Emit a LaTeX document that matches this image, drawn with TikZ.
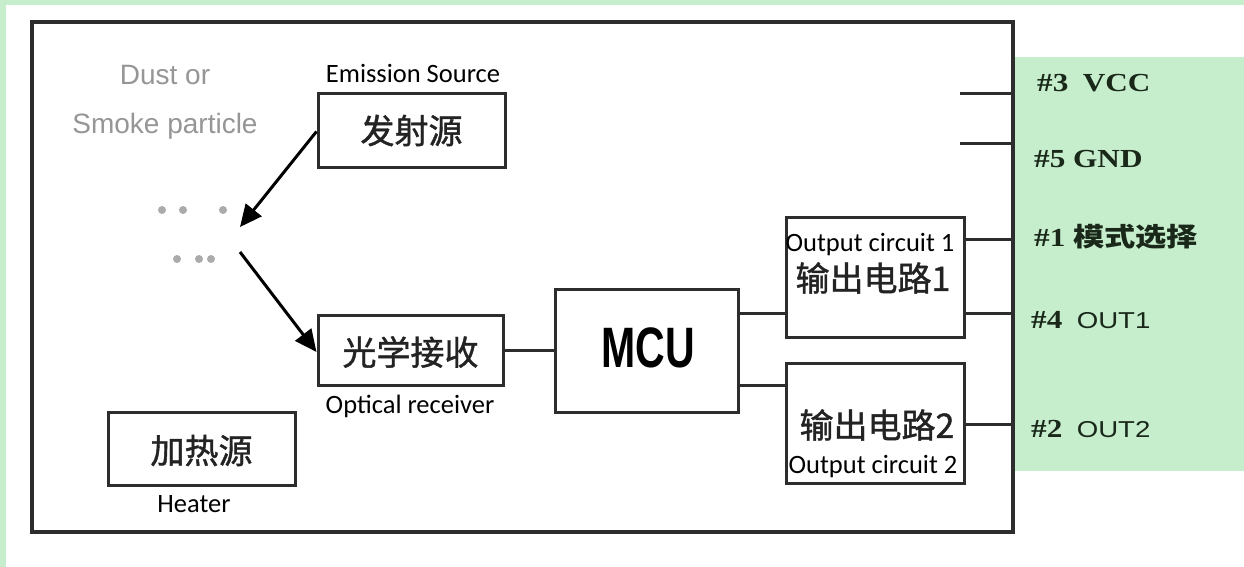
\documentclass[tikz,border=0pt]{standalone}
\usepackage{fontspec}
\usepackage{graphicx}
\usetikzlibrary{arrows.meta}
\newfontfamily\cjk{Noto Sans CJK SC}
\newfontfamily\cjkm[FakeBold=1.2]{Noto Sans CJK SC}
\newfontfamily\calib{Carlito}
\newfontfamily\arialf{Liberation Sans}
\newfontfamily\tnrf{Liberation Serif}
\definecolor{pgreen}{RGB}{198,237,204}
\definecolor{lined}{RGB}{45,45,45}
\definecolor{dustgray}{RGB}{150,150,150}
\definecolor{cjkcol}{RGB}{35,35,35}
\definecolor{pincol}{RGB}{25,40,25}
\newcommand{\wx}[1]{\scalebox{1.2}[1]{#1}}
\begin{document}
\begin{tikzpicture}[x=1pt,y=-1pt,
  blk/.style={draw=lined,line width=3pt,inner sep=0pt,fill=white},
  cjktext/.style={text=cjkcol,font=\cjkm\fontsize{34}{38}\selectfont},
  lbl/.style={anchor=base,font=\calib\fontsize{26.5}{30}\selectfont,inner sep=0pt},
  dusttext/.style={anchor=base,text=dustgray,font=\arialf\fontsize{28}{30}\selectfont,inner sep=0pt},
  pinlbl/.style={anchor=base west,text=pincol,inner sep=0pt,font=\tnrf\bfseries\fontsize{26}{30}\selectfont},
  conn/.style={draw=lined,line width=3pt},
  arr/.style={draw=black,line width=3pt,-{Triangle[length=22pt,width=20pt]}},
  dot/.style={fill=dustgray!80}
]
\useasboundingbox (0,0) rectangle (1244,567);
\fill[white] (0,0) rectangle (1244,567);
% green strips and pin panel
\fill[pgreen] (0,0) rectangle (1244,5);
\fill[pgreen] (0,0) rectangle (6,567);
\fill[pgreen] (1015,57) rectangle (1244,471);

% outer frame
\node[draw=lined,line width=3.2pt,inner sep=0pt,minimum width=981pt,minimum height=510pt] (frame) at (522.5,277) {};

% blocks
\node[blk,minimum width=187pt,minimum height=73pt] (emit) at (411.5,130.5) {};
\node[cjktext] at (emit.center) {发射源};
\node[blk,minimum width=185pt,minimum height=70pt] (recv) at (410.5,350) {};
\node[cjktext] at ([yshift=-2pt]recv.center) {光学接收};
\node[blk,minimum width=187pt,minimum height=73pt] (heat) at (201.5,448.5) {};
\node[cjktext] at ([yshift=-2pt]heat.center) {加热源};
\node[blk,minimum width=183pt,minimum height=123pt] (mcu) at (646.5,350.5) {};
\node[inner sep=0pt] (mcutxt) at (648,348) {\scalebox{0.72}[1]{\arialf\bfseries\fontsize{57}{60}\selectfont MCU}};
\node[blk,minimum width=178pt,minimum height=120pt] (out1) at (875,277) {};
\node[cjktext] (o1t) at (873,278) {输出电路1};
\node[blk,minimum width=178pt,minimum height=120pt] (out2) at (875,423) {};
\node[cjktext] (o2t) at (877,425) {输出电路2};

% English labels
\node[lbl] (emlbl) at (413,83) {Emission Source};
\node[lbl] (rclbl) at (410,413) {Optical receiver};
\node[lbl] (htlbl) at (194,512) {Heater};
\node[lbl] (o1lbl) at (870,251) {Output circuit 1};
\node[lbl] (o2lbl) at (873,473) {Output circuit 2};
\node[dusttext] (dust1) at (165,85) {Dust or};
\node[dusttext] (dust2) at (165,134) {Smoke particle};

% particles
\foreach \px/\py in {162/210,183/210,223/210,177/259,199/259,211/259}
  \fill[dot] (\px,\py) circle[radius=4pt];

% arrows
\coordinate (a1end) at (240,227);
\coordinate (a2start) at (240,252);
\draw[arr] ([yshift=-1pt]emit.west) -- (a1end);
\draw[arr] (a2start) -- ([yshift=-2pt]recv.west);

% connectors
\draw[conn] (recv.east) -- (mcu.west |- recv.east);
\draw[conn] (mcu.east |- 0,313) -- (out1.west |- 0,313);
\draw[conn] (mcu.east |- 0,385) -- (out2.west |- 0,385);

% pin connectors
\coordinate (vccin) at (960,94);
\coordinate (gndin) at (960,143);
\draw[conn] (vccin) -- (vccin -| frame.east);
\draw[conn] (gndin) -- (gndin -| frame.east);
\draw[conn] (out1.east |- 0,239) -- (frame.east |- 0,239);
\draw[conn] (out1.east |- 0,313) -- (frame.east |- 0,313);
\draw[conn] (out2.east |- 0,424) -- (frame.east |- 0,424);

% pin labels
\node[pinlbl] (p3) at (1037,92) {\wx{\#3\hspace{12pt}VCC}};
\node[pinlbl] (p5) at (1034,167) {\wx{\#5 GND}};
\node[pinlbl] (p1) at (1034,246) {\wx{\#1 \cjk\bfseries 模式选择}};
\node[pinlbl] (p4) at (1031,328) {\wx{\#4\hspace{12pt}{\arialf\mdseries\fontsize{23}{26}\selectfont OUT1}}};
\node[pinlbl] (p2) at (1031,437) {\wx{\#2\hspace{12pt}{\arialf\mdseries\fontsize{23}{26}\selectfont OUT2}}};
\end{tikzpicture}
\end{document}
